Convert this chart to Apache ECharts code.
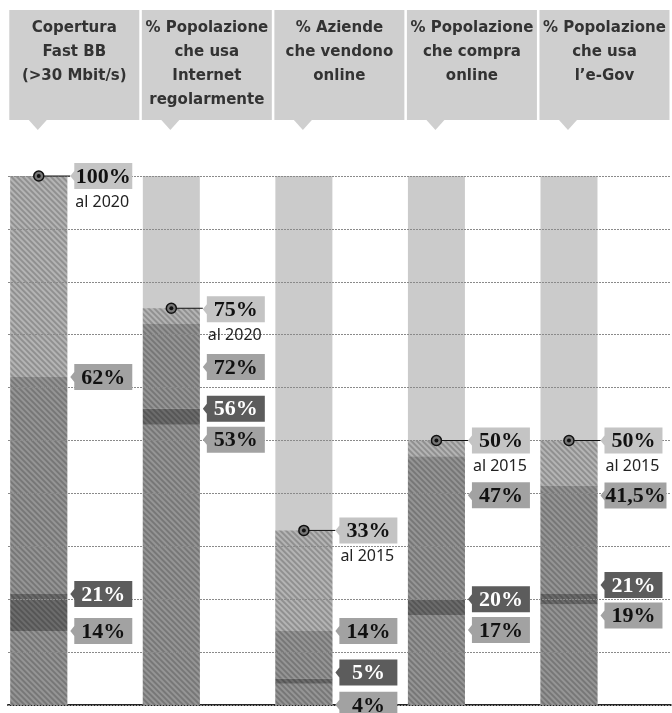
<!DOCTYPE html>
<html>
<head>
<meta charset="utf-8">
<script src="https://cdn.jsdelivr.net/npm/echarts@6.0.0/dist/echarts.min.js"></script>
<style>
  html, body { margin: 0; padding: 0; background: #fff; }
  #chart { width: 672px; height: 713px; }
</style>
</head>
<body>
<div id="chart"></div>
<script>
  // intestazioni delle colonne
  const headers = [
    'Copertura\nFast BB\n(>30 Mbit/s)',
    '% Popolazione\nche usa\nInternet\nregolarmente',
    '% Aziende\nche vendono\nonline',
    '% Popolazione\nche compra\nonline',
    '% Popolazione\nche usa\nl\u2019e-Gov'
  ];
  // obiettivi
  const targets = [100, 75, 33, 50, 50];
  const targetYears = ['al 2020', 'al 2020', 'al 2015', 'al 2015', 'al 2015'];
  // valori intermedi (dall'alto verso il basso)
  const upperValues = [62, 72, 14, 47, 41.5];
  const midValues = [21, 56, 5, 20, 21];
  const lowValues = [14, 53, 4, 17, 19];

  // spostamento verticale (px) delle etichette per non sovrapporle: [obiettivo, alto, medio, basso]
  const nudges = [
    [0, 0, 0, 0],
    [1, 43, 0, 15],
    [0, 0, -6, 21],
    [0, 39, 0, 15],
    [0, 10, -9, 11]
  ];

  const BAR_W = 57;
  const GAP = 14;
  const BAR_SHIFT = -(BAR_W * 2 + GAP) / 2 + BAR_W / 2;   // centro barra rispetto al centro della banda
  const BAR_RIGHT = BAR_SHIFT + BAR_W / 2;

  const HEAD_BG = '#cfcfcf';
  const C_BG = '#cbcbcb';
  const C_LIGHT = '#b4b4b4';
  const C_DARK = '#959595';
  const C_DARKEST = '#6c6c6c';

  function pct(v) { return String(v).replace('.', ',') + '%'; }

  // tratteggio diagonale come nel grafico stampato
  const hatch = {
    symbol: 'rect',
    symbolSize: 1,
    dashArrayX: [1, 0],
    dashArrayY: [2, 2],
    rotation: Math.PI / 4,
    color: 'rgba(0,0,0,0.2)'
  };

  function layer(name, values, color) {
    return {
      name: name,
      type: 'bar',
      stack: 'v',
      barWidth: BAR_W,
      barGap: (GAP / BAR_W * 100) + '%',
      data: values,
      itemStyle: { color: color, decal: hatch },
      silent: true
    };
  }

  const layers = [
    layer('basso', lowValues, C_DARK),
    layer('medio', midValues.map((v, i) => v - lowValues[i]), C_DARKEST),
    layer('alto', upperValues.map((v, i) => v - midValues[i]), C_DARK),
    layer('obiettivo', targets.map((v, i) => v - upperValues[i]), C_LIGHT)
  ];
  layers[0].showBackground = true;
  layers[0].backgroundStyle = { color: C_BG };

  function tag(x, y, text, fill, color) {
    const w = text.length > 4 ? 62 : 58, h = 26, bx = x + 4;
    return [
      {
        type: 'polygon',
        shape: { points: [[x, y], [bx, y - 5], [bx, y - h / 2], [bx + w, y - h / 2], [bx + w, y + h / 2], [bx, y + h / 2], [bx, y + 5]] },
        style: { fill: fill }
      },
      {
        type: 'text',
        style: {
          x: bx + w / 2, y: y + 1, text: text, fill: color,
          font: 'bold 22px "Liberation Serif"', align: 'center', verticalAlign: 'middle'
        }
      }
    ];
  }

  function renderItem(params, api) {
    const i = params.dataIndex;
    const cx = api.coord([i, 0])[0];
    const barX = cx + BAR_SHIFT;
    const tipX = cx + BAR_RIGHT + 3;
    const yOf = v => api.coord([i, v])[1];
    const top = yOf(100);
    const n = nudges[i];
    const yT = yOf(targets[i]);
    let children = [];
    children.push({
      type: 'polygon',
      shape: { points: [[barX - 10, top - 56], [barX + 8, top - 56], [barX - 1, top - 46]] },
      style: { fill: HEAD_BG }
    });
    children.push({ type: 'line', shape: { x1: barX, y1: yT, x2: tipX, y2: yT }, style: { stroke: '#111', lineWidth: 1 } });
    children.push({ type: 'circle', shape: { cx: barX, cy: yT, r: 5 }, style: { fill: '#777', stroke: '#111', lineWidth: 1.5 } });
    children.push({ type: 'circle', shape: { cx: barX, cy: yT, r: 2 }, style: { fill: '#111' } });
    children = children.concat(tag(tipX, yT + n[0], pct(targets[i]), '#c4c4c4', '#111'));
    children.push({
      type: 'text',
      style: {
        x: tipX + 5, y: yT + n[0] + 26, text: targetYears[i], fill: '#222',
        font: '16px "Noto Sans"', align: 'left', verticalAlign: 'middle'
      }
    });
    children = children.concat(tag(tipX, yOf(upperValues[i]) + n[1], pct(upperValues[i]), '#a2a2a2', '#111'));
    children = children.concat(tag(tipX, yOf(midValues[i]) + n[2], pct(midValues[i]), '#5c5c5c', '#fff'));
    children = children.concat(tag(tipX, yOf(lowValues[i]) + n[3], pct(lowValues[i]), '#a2a2a2', '#111'));
    return { type: 'group', children: children };
  }

  const option = {
    animation: false,
    grid: { left: 8, top: 176, width: 667.5, bottom: 8 },
    xAxis: [
      {
        type: 'category',
        // ogni intestazione portata a 4 righe, testo allineato in alto nel riquadro
        data: headers.map(h => h + '\n '.repeat(4 - h.split('\n').length)),
        position: 'top',
        axisLine: { show: false },
        axisTick: { show: false },
        axisLabel: {
          interval: 0,
          margin: 56,
          color: '#333',
          fontFamily: 'DejaVu Sans',
          fontWeight: 'bold',
          fontSize: 15,
          lineHeight: 24,
          width: 130,
          height: 102,
          padding: [0, 0, 8, 0],
          backgroundColor: HEAD_BG,
          align: 'center'
        }
      },
      {
        type: 'category',
        data: headers,
        position: 'bottom',
        axisLine: { show: true, lineStyle: { color: '#222', width: 2, type: [4, 1] } },
        axisTick: { show: false },
        axisLabel: { show: false }
      }
    ],
    yAxis: {
      type: 'value',
      min: 0,
      max: 100,
      interval: 10,
      z: 3,
      axisLine: { show: false },
      axisTick: { show: false },
      axisLabel: { show: false },
      splitLine: { lineStyle: { color: '#8a8a8a', type: [2, 1], width: 1 } }
    },
    series: layers.concat([
      {
        name: 'spazio',
        type: 'bar',
        stack: 'ghost',
        barWidth: BAR_W,
        barGap: (GAP / BAR_W * 100) + '%',
        data: headers.map(() => '-'),
        silent: true
      },
      {
        name: 'etichette',
        type: 'custom',
        renderItem: renderItem,
        data: targets.map((t, i) => [i, t]),
        encode: { x: 0, y: 1 },
        z: 10,
        silent: true
      }
    ])
  };

  const chart = echarts.init(document.getElementById('chart'));
  chart.setOption(option);
</script>
</body>
</html>
